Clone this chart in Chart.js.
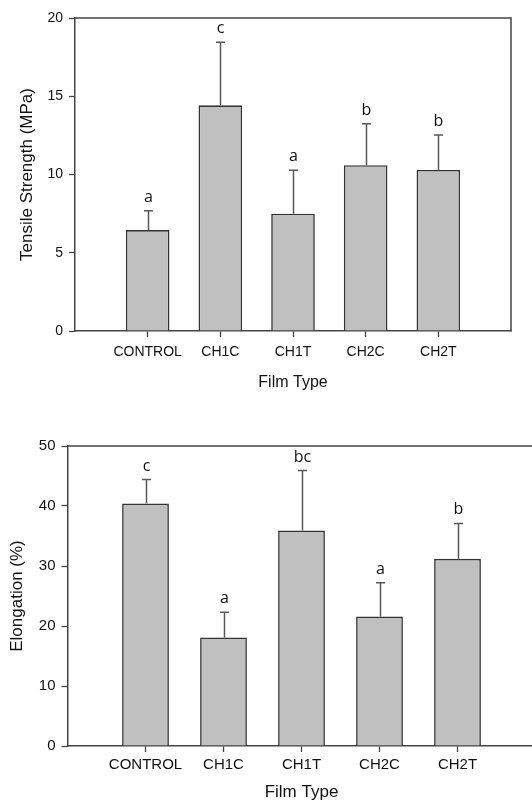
<!DOCTYPE html>
<html><head><meta charset="utf-8">
<script src="https://cdn.jsdelivr.net/npm/chart.js@4"></script>
<style>
html,body{margin:0;padding:0;background:#fff;overflow:hidden;width:532px;height:803px;position:relative}
#c1{position:absolute;left:0;top:0}
#c2{position:absolute;left:0;top:400px}
</style></head><body>
<canvas id="c1" width="532" height="400"></canvas>
<canvas id="c2" width="545" height="403"></canvas>
<script>
// ---- data ----
const filmTypes = ['CONTROL', 'CH1C', 'CH1T', 'CH2C', 'CH2T'];
const tensileMean = [6.45, 14.42, 7.50, 10.59, 10.29];
const tensileErr = [1.23, 4.03, 2.77, 2.66, 2.23];
const tensileLetters = ['a', 'c', 'a', 'b', 'b'];
const tensileTicks = [0, 5, 10, 15, 20];
const elongMean = [40.4, 18.1, 35.9, 21.6, 31.2];
const elongErr = [4.0, 4.2, 10.0, 5.6, 5.9];
const elongLetters = ['c', 'a', 'bc', 'a', 'b'];
const elongTicks = [0, 10, 20, 30, 40, 50];

const AXIS = '#444444';
const TXT = '#111111';

function decorPlugin(errs, letters, letterFont, showRight) {
  return {
    id: 'decor',
    afterDatasetsDraw(chart) {
      const {ctx, chartArea: a, scales: {y}} = chart;
      const meta = chart.getDatasetMeta(0);
      const vals = chart.data.datasets[0].data;
      ctx.save();
      meta.data.forEach((bar, i) => {
        const k = i - 1;
        if (k < 0 || k >= errs.length) return;
        const px = Math.round(bar.x) + 0.5;
        const yTop = y.getPixelForValue(vals[i]);
        const yCap = y.getPixelForValue(vals[i] + errs[k]);
        ctx.strokeStyle = '#595959';
        ctx.lineWidth = 1.5;
        ctx.beginPath();
        ctx.moveTo(px, yTop);
        ctx.lineTo(px, yCap);
        ctx.moveTo(px - 4.5, yCap);
        ctx.lineTo(px + 4.5, yCap);
        ctx.stroke();
        ctx.fillStyle = TXT;
        ctx.font = letterFont;
        ctx.textAlign = 'center';
        ctx.textBaseline = 'alphabetic';
        ctx.fillText(letters[k], px, yCap - 9);
      });
      ctx.strokeStyle = AXIS;
      ctx.lineWidth = 1.5;
      ctx.beginPath();
      ctx.moveTo(a.left, a.top);
      ctx.lineTo(a.right, a.top);
      if (showRight) ctx.lineTo(a.right, a.bottom);
      ctx.stroke();
      ctx.restore();
    }
  };
}

function makeChart(id, cfg) {
  const labels = [''].concat(cfg.cats, ['']);
  const data = [null].concat(cfg.mean, [null]);
  return new Chart(document.getElementById(id), {
    type: 'bar',
    data: {
      labels,
      datasets: [{
        data,
        backgroundColor: '#c0c0c0',
        borderColor: '#333333',
        borderWidth: 1.6,
        borderSkipped: 'bottom',
        barPercentage: 0.6,
        categoryPercentage: 1
      }]
    },
    options: {
      responsive: false,
      animation: false,
      devicePixelRatio: 1,
      layout: {padding: cfg.pad},
      plugins: {legend: {display: false}, tooltip: {enabled: false}},
      scales: {
        x: {
          offset: false,
          grid: {
            offset: false, drawOnChartArea: false, drawTicks: true, tickLength: 6, tickWidth: 1.3,
            tickColor: c => (c.tick && c.tick.label === '') ? 'rgba(0,0,0,0)' : AXIS
          },
          border: {color: AXIS, width: 1.5},
          ticks: {color: TXT, font: {family: 'Liberation Sans', size: cfg.tickSize}, padding: cfg.xTickPad, maxRotation: 0, autoSkip: false},
          title: {display: true, text: 'Film Type', color: TXT, font: {family: 'Liberation Sans', size: cfg.titleSize}, padding: 0},
          afterFit: s => { s.height = cfg.xH; }
        },
        y: {
          min: cfg.ticks[0], max: cfg.ticks[cfg.ticks.length - 1],
          afterBuildTicks: s => { s.ticks = cfg.ticks.map(v => ({value: v})); },
          grid: {drawOnChartArea: false, drawTicks: true, tickLength: 6, tickColor: AXIS, tickWidth: 1.3},
          border: {color: AXIS, width: 1.5},
          ticks: {color: TXT, font: {family: 'Liberation Sans', size: cfg.tickSize}, padding: 6},
          title: {display: true, text: cfg.yTitle, color: TXT, font: {family: 'Liberation Sans', size: cfg.yTitleSize}, padding: {top: cfg.yTitlePad, bottom: 0}},
          afterFit: s => { s.width = cfg.yW; }
        }
      }
    },
    plugins: [decorPlugin(cfg.err, cfg.letters, cfg.letterFont, cfg.showRight)]
  });
}

makeChart('c1', {
  cats: filmTypes, mean: tensileMean, err: tensileErr, letters: tensileLetters, ticks: tensileTicks,
  yTitle: 'Tensile Strength (MPa)', pad: {top: 18, right: 21, left: 0, bottom: 8},
  xH: 61, yW: 75, tickSize: 14, titleSize: 16, yTitleSize: 17, xTickPad: 7, yTitlePad: 17,
  letterFont: '16px "Open Sans"', showRight: true
});
makeChart('c2', {
  cats: filmTypes, mean: elongMean, err: elongErr, letters: elongLetters, ticks: elongTicks,
  yTitle: 'Elongation (%)', pad: {top: 46, right: 9.5, left: 0, bottom: 0},
  xH: 57, yW: 67.5, tickSize: 15, titleSize: 17, yTitleSize: 17, xTickPad: 4, yTitlePad: 7,
  letterFont: '16px "Open Sans"', showRight: true
});
</script>
</body></html>
